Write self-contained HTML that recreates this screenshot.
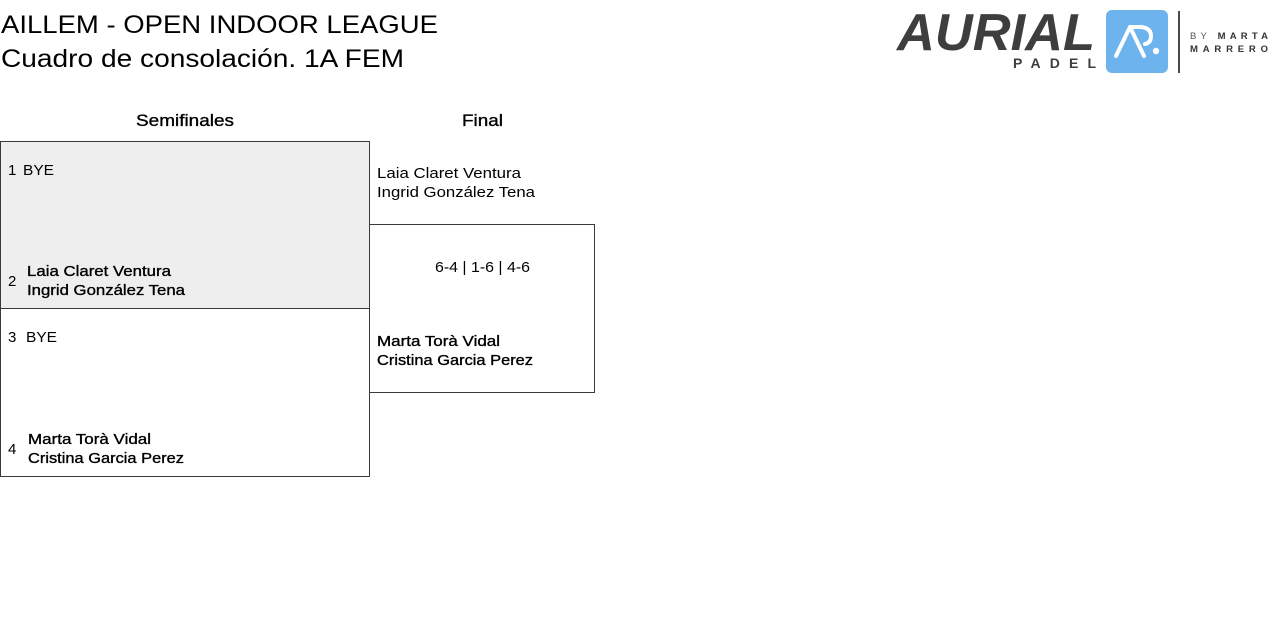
<!DOCTYPE html>
<html>
<head>
<meta charset="utf-8">
<style>
  html, body { margin:0; padding:0; background:#ffffff; }
  body { width:1280px; height:628px; overflow:hidden; }
  svg { display:block; }
  text { font-family: "Liberation Sans", "DejaVu Sans", sans-serif; fill:#000; }
  .med { stroke:#000; stroke-width:0.35; }
</style>
</head>
<body>
<svg width="1280" height="628" viewBox="0 0 1280 628" xmlns="http://www.w3.org/2000/svg">
  <!-- Title -->
  <text x="1" y="33" font-size="25" textLength="437" lengthAdjust="spacingAndGlyphs">AILLEM - OPEN INDOOR LEAGUE</text>
  <text x="1" y="67" font-size="25" textLength="403" lengthAdjust="spacingAndGlyphs">Cuadro de consolación. 1A FEM</text>

  <!-- Logo -->
  <text x="897" y="50" font-size="52" font-weight="bold" font-style="italic" fill="#3e3e3e" style="fill:#3e3e3e" textLength="198" lengthAdjust="spacingAndGlyphs">AURIAL</text>
  <text x="1013" y="68" font-size="14" font-weight="bold" style="fill:#3e3e3e" textLength="83" lengthAdjust="spacing">PADEL</text>
  <rect x="1106" y="10" width="62" height="63" rx="6" ry="6" fill="#6db3ed"/>
  <path d="M1116,56 L1130,27 L1144,56" fill="none" stroke="#fff" stroke-width="4" stroke-linecap="round" stroke-linejoin="round"/>
  <path d="M1131,27 L1141,27 Q1151,28 1151,36 Q1151,43 1145,44" fill="none" stroke="#fff" stroke-width="4" stroke-linecap="round" stroke-linejoin="round"/>
  <circle cx="1156" cy="51" r="3.2" fill="#fff"/>
  <rect x="1178" y="11" width="2" height="62" fill="#4a4a4a"/>
  <text x="1190" y="39" font-size="9.5" style="fill:#555" textLength="78" lengthAdjust="spacing">BY <tspan font-weight="bold" style="fill:#333">MARTA</tspan></text>
  <text x="1190" y="52" font-size="9.5" font-weight="bold" style="fill:#333" textLength="78" lengthAdjust="spacing">MARRERO</text>

  <!-- Column headers -->
  <text x="136" y="126" font-size="17" class="med" textLength="98" lengthAdjust="spacingAndGlyphs">Semifinales</text>
  <text x="462" y="126" font-size="17" class="med" textLength="41" lengthAdjust="spacingAndGlyphs">Final</text>

  <!-- Semifinal boxes -->
  <rect x="0.5" y="141.5" width="369" height="167" fill="#eeeeee" stroke="#3a3a3a" stroke-width="1"/>
  <rect x="0.5" y="308.5" width="369" height="168" fill="#ffffff" stroke="#3a3a3a" stroke-width="1"/>

  <!-- Final box -->
  <rect x="369.5" y="224.5" width="225" height="168" fill="none" stroke="#3a3a3a" stroke-width="1"/>

  <!-- Semi 1 -->
  <text x="8" y="175" font-size="15">1</text>
  <text x="23" y="175" font-size="15" textLength="31" lengthAdjust="spacingAndGlyphs">BYE</text>
  <text x="8" y="286" font-size="15">2</text>
  <text x="27" y="276" font-size="15" class="med" textLength="144" lengthAdjust="spacingAndGlyphs">Laia Claret Ventura</text>
  <text x="27" y="295" font-size="15" class="med" textLength="158" lengthAdjust="spacingAndGlyphs">Ingrid González Tena</text>

  <!-- Semi 2 -->
  <text x="8" y="342" font-size="15">3</text>
  <text x="26" y="342" font-size="15" textLength="31" lengthAdjust="spacingAndGlyphs">BYE</text>
  <text x="8" y="454" font-size="15">4</text>
  <text x="28" y="444" font-size="15" class="med" textLength="123" lengthAdjust="spacingAndGlyphs">Marta Torà Vidal</text>
  <text x="28" y="463" font-size="15" class="med" textLength="156" lengthAdjust="spacingAndGlyphs">Cristina Garcia Perez</text>

  <!-- Final -->
  <text x="377" y="178" font-size="15" textLength="144" lengthAdjust="spacingAndGlyphs">Laia Claret Ventura</text>
  <text x="377" y="197" font-size="15" textLength="158" lengthAdjust="spacingAndGlyphs">Ingrid González Tena</text>
  <text x="435" y="272" font-size="15" textLength="95" lengthAdjust="spacingAndGlyphs">6-4 | 1-6 | 4-6</text>
  <text x="377" y="346" font-size="15" class="med" textLength="123" lengthAdjust="spacingAndGlyphs">Marta Torà Vidal</text>
  <text x="377" y="365" font-size="15" class="med" textLength="156" lengthAdjust="spacingAndGlyphs">Cristina Garcia Perez</text>
</svg>
</body>
</html>
